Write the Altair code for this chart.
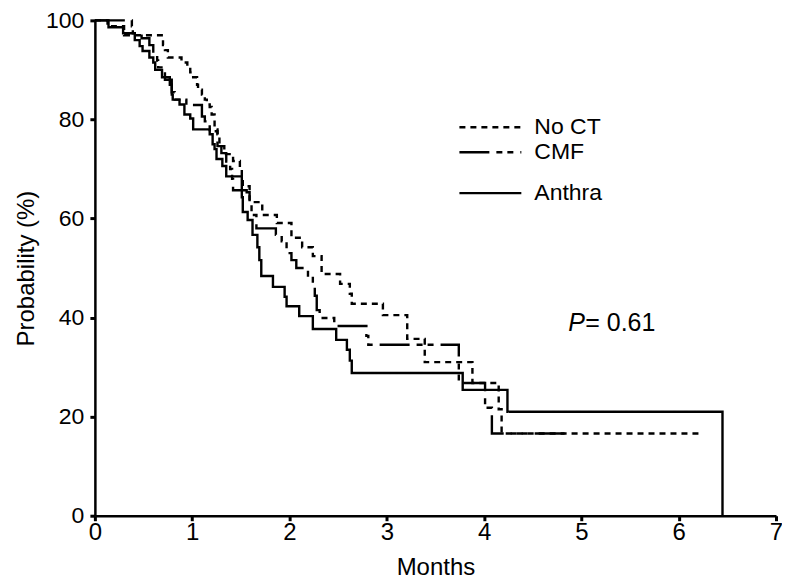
import altair as alt
import pandas as pd

# ---- data (months, survival %) ----
series_names = ["No CT", "CMF", "Anthra"]

noct_t = [0, 0.13, 0.30, 0.70, 0.72, 0.75, 0.89, 0.95, 0.98, 1.01, 1.05, 1.06, 1.10, 1.13, 1.15,
          1.18, 1.20, 1.23, 1.26, 1.28, 1.33, 1.42, 1.49, 1.51, 1.52, 1.59, 1.72, 1.87, 2.02,
          2.13, 2.24, 2.33, 2.52, 2.62, 2.64, 2.96, 3.21, 3.39, 3.88, 4.15, 4.18, 6.24]
noct_s = [100, 98.8, 97.0, 95.0, 94.0, 92.5, 91.5, 90.5, 89.5, 88.5, 87.0, 86.0, 85.0, 84.0, 83.0,
          82.5, 81.0, 78.0, 77.0, 74.6, 73.0, 71.6, 70.0, 68.0, 66.5, 63.3, 60.7, 59.1, 56.1,
          54.2, 52.4, 48.8, 46.8, 44.8, 42.8, 40.5, 35.7, 31.0, 26.8, 21.5, 16.6, 16.6]

cmf_t = [0, 0.38, 0.39, 0.48, 0.56, 0.60, 0.64, 0.65, 0.72, 0.79, 0.82, 0.94, 1.10, 1.13, 1.18,
         1.26, 1.30, 1.35, 1.39, 1.41, 1.42, 1.56, 1.59, 1.61, 1.66, 1.86, 1.92, 1.97, 2.02,
         2.07, 2.19, 2.24, 2.26, 2.28, 2.31, 2.46, 2.79, 2.81, 3.74, 4.01, 4.08, 4.90]
cmf_s = [100, 98.8, 97.4, 96.4, 95.0, 93.4, 91.9, 90.5, 88.0, 85.5, 84.0, 82.9, 80.6, 79.6, 77.6,
         74.6, 73.2, 71.5, 70.0, 68.0, 65.7, 65.3, 63.3, 60.7, 58.0, 56.7, 55.4, 53.0, 51.6,
         50.0, 48.5, 47.0, 44.4, 41.5, 39.9, 38.3, 36.3, 34.5, 26.8, 21.8, 16.6, 16.6]

anthra_t = [0, 0.14, 0.29, 0.41, 0.46, 0.49, 0.56, 0.60, 0.62, 0.69, 0.77, 0.79, 0.80, 0.87, 0.92,
            0.98, 1.01, 1.18, 1.21, 1.23, 1.25, 1.31, 1.35, 1.51, 1.52, 1.57, 1.62, 1.67, 1.69,
            1.71, 1.83, 1.95, 1.97, 2.10, 2.24, 2.48, 2.59, 2.62, 2.64, 3.78, 4.24, 6.45]
anthra_s = [100, 98.6, 97.4, 96.0, 94.8, 93.8, 92.5, 91.5, 90.0, 88.5, 87.0, 85.0, 84.0, 83.0, 81.0,
            80.2, 78.0, 77.0, 75.0, 74.0, 72.0, 70.6, 68.5, 64.3, 61.3, 59.7, 56.7, 54.2, 51.6,
            48.4, 46.2, 44.2, 42.3, 40.3, 37.7, 35.5, 33.5, 31.3, 28.8, 25.4, 21.0, 0.0]

x_ticks = [0, 1, 2, 3, 4, 5, 6, 7]
y_ticks = [0, 20, 40, 60, 80, 100]
p_label = "= 0.61"

rows = []
for name, ts, ss in [("No CT", noct_t, noct_s), ("CMF", cmf_t, cmf_s), ("Anthra", anthra_t, anthra_s)]:
    for i, (t, s) in enumerate(zip(ts, ss)):
        rows.append({"series": name, "t": t, "s": s, "order": i})
df = pd.DataFrame(rows)

dash_range = [[6, 5], [30, 7, 6, 5, 6, 7], [1, 0]]
FONT = "Liberation Sans"

curves = alt.Chart(df).mark_line(interpolate="step-after", color="black", strokeWidth=2.4).encode(
    x=alt.X("t:Q", scale=alt.Scale(domain=[0, 7], nice=False),
            axis=alt.Axis(values=x_ticks, title="Months", format="d", labelFlush=False)),
    y=alt.Y("s:Q", scale=alt.Scale(domain=[0, 100], nice=False),
            axis=alt.Axis(values=y_ticks, title="Probability (%)", format="d", labelFlush=False)),
    strokeDash=alt.StrokeDash("series:N", scale=alt.Scale(domain=series_names, range=dash_range), legend=None),
    detail="series:N",
    order="order:Q",
)

# custom legend
leg_df = pd.DataFrame({"series": series_names, "ly": [107, 132, 173]})
leg_lines = alt.Chart(leg_df).mark_rule(color="black", strokeWidth=2.4).encode(
    x=alt.value(365), x2=alt.value(427), y=alt.Y("ly:Q", scale=None),
    strokeDash=alt.StrokeDash("series:N", scale=alt.Scale(domain=series_names, range=dash_range), legend=None),
)
leg_text = alt.Chart(leg_df).mark_text(align="left", baseline="middle", font=FONT, fontSize=23, color="black").encode(
    x=alt.value(440), y=alt.Y("ly:Q", scale=None), text="series:N"
)

p_df = pd.DataFrame({"a": ["P"], "b": [p_label]})
p_italic = alt.Chart(p_df).mark_text(align="left", baseline="middle", font=FONT, fontSize=25,
                                     fontStyle="italic", color="black").encode(
    x=alt.value(474), y=alt.value(303), text="a:N")
p_rest = alt.Chart(p_df).mark_text(align="left", baseline="middle", font=FONT, fontSize=25, color="black").encode(
    x=alt.value(491), y=alt.value(303), text="b:N")

chart = alt.layer(curves, leg_lines, leg_text, p_italic, p_rest).properties(
    width=682, height=496,
    autosize=alt.AutoSizeParams(type="none"),
    padding={"left": 87, "top": 12, "right": 6, "bottom": 65},
).configure_view(stroke=None).configure_axis(
    grid=False, domainColor="black", domainWidth=2.5, tickColor="black", tickSize=5, tickWidth=3,
    labelFont=FONT, labelFontSize=23, labelColor="black", titleFont=FONT, titleFontSize=24,
    titleFontWeight="normal", titleColor="black",
).configure_axisX(labelPadding=0, titlePadding=11, labelFontSize=24).configure_axisY(labelPadding=6, titlePadding=7)

chart.save("out.html", embed_options={"renderer": "svg", "actions": False})
